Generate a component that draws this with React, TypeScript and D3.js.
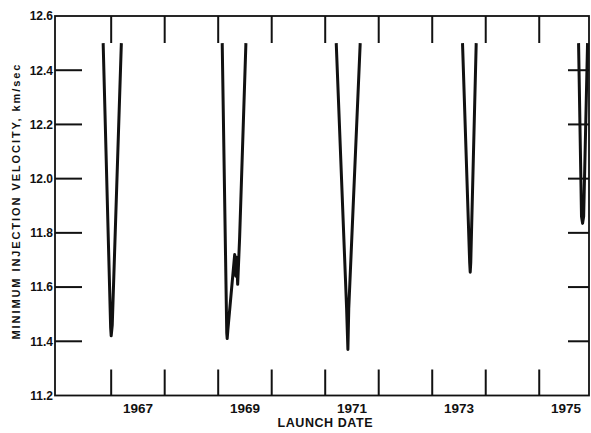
import { useEffect, useRef } from "react";
import * as d3 from "d3";

// launch windows: [year (decimal), minimum injection velocity km/sec]
const window1967: [number, number][] = [
  [1966.85, 12.5], [1966.99, 11.45], [1967.0, 11.42], [1967.02, 11.46], [1967.19, 12.5]
];
const window1969: [number, number][] = [
  [1969.075, 12.5], [1969.16, 11.43], [1969.168, 11.41], [1969.18, 11.44], [1969.308, 11.72],
  [1969.33, 11.64], [1969.346, 11.71], [1969.364, 11.61], [1969.40, 11.78], [1969.518, 12.5]
];
const window1971: [number, number][] = [
  [1971.206, 12.5], [1971.40, 11.52], [1971.424, 11.37], [1971.44, 11.52], [1971.654, 12.5]
];
const window1973: [number, number][] = [
  [1973.566, 12.5], [1973.70, 11.69], [1973.71, 11.655], [1973.72, 11.69], [1973.822, 12.5]
];
const window1975: [number, number][] = [
  [1975.735, 12.5], [1975.79, 11.86], [1975.81, 11.835], [1975.83, 11.86], [1975.903, 12.5]
];
const SERIES = [window1967, window1969, window1971, window1973, window1975];

const yearTicks = [1967, 1968, 1969, 1970, 1971, 1972, 1973, 1974, 1975];
const yearLabels = [1967, 1969, 1971, 1973, 1975];
const velTicks = [11.2, 11.4, 11.6, 11.8, 12.0, 12.2, 12.4, 12.6];

const FONT = "'Liberation Sans', Arial, sans-serif";

export default function App() {
  const ref = useRef<SVGSVGElement>(null);

  useEffect(() => {
    const w = 591, h = 433;
    const left = 55, right = 589, top = 16, bottom = 395.5;
    const svg = d3.select(ref.current)
      .attr("width", w)
      .attr("height", h)
      .attr("viewBox", `0 0 ${w} ${h}`);
    svg.selectAll("*").remove();

    const x = d3.scaleLinear().domain([1965.95, 1975.93]).range([left, right]);
    const y = d3.scaleLinear().domain([11.2, 12.6]).range([bottom, top]);

    const ink = "#111";

    // frame
    svg.append("rect")
      .attr("x", left).attr("y", top)
      .attr("width", right - left).attr("height", bottom - top)
      .attr("fill", "none").attr("stroke", ink).attr("stroke-width", 1.8);

    // inward ticks, all four sides
    const inner = velTicks.filter(v => v > 11.2 && v < 12.6);
    svg.append("g").selectAll("line").data(inner).join("line")
      .attr("x1", left).attr("x2", left + 27)
      .attr("y1", d => y(d)).attr("y2", d => y(d))
      .attr("stroke", ink).attr("stroke-width", 2);
    svg.append("g").selectAll("line").data(inner).join("line")
      .attr("x1", right).attr("x2", right - 21)
      .attr("y1", d => y(d)).attr("y2", d => y(d))
      .attr("stroke", ink).attr("stroke-width", 2);
    svg.append("g").selectAll("line").data(yearTicks).join("line")
      .attr("x1", d => x(d)).attr("x2", d => x(d))
      .attr("y1", bottom).attr("y2", bottom - 26)
      .attr("stroke", ink).attr("stroke-width", 2);
    svg.append("g").selectAll("line").data(yearTicks).join("line")
      .attr("x1", d => x(d)).attr("x2", d => x(d))
      .attr("y1", top).attr("y2", top + 27)
      .attr("stroke", ink).attr("stroke-width", 2);

    // y tick labels
    svg.append("g").selectAll("text").data(velTicks).join("text")
      .attr("x", left - 2).attr("y", d => y(d)).attr("dy", "0.36em")
      .attr("text-anchor", "end")
      .attr("font-family", FONT).attr("font-weight", "bold").attr("font-size", 12)
      .attr("fill", ink)
      .text(d => d.toFixed(1));

    // year labels, centred in the year
    svg.append("g").selectAll("text").data(yearLabels).join("text")
      .attr("x", d => x(d + 0.5)).attr("y", 413)
      .attr("text-anchor", "middle")
      .attr("font-family", FONT).attr("font-weight", "bold").attr("font-size", 13.5)
      .attr("fill", ink)
      .text(d => String(d));

    svg.append("text")
      .attr("x", 325).attr("y", 427)
      .attr("text-anchor", "middle")
      .attr("textLength", 95).attr("lengthAdjust", "spacing")
      .attr("font-family", FONT).attr("font-weight", "bold").attr("font-size", 12.5)
      .attr("fill", ink)
      .text("LAUNCH DATE");

    svg.append("text")
      .attr("transform", "translate(20,202) rotate(-90)")
      .attr("text-anchor", "middle")
      .attr("textLength", 275).attr("lengthAdjust", "spacing")
      .attr("font-family", FONT).attr("font-weight", "bold").attr("font-size", 11)
      .attr("fill", ink)
      .text("MINIMUM INJECTION VELOCITY, km/sec");

    // curves
    const line = d3.line<[number, number]>()
      .x(d => x(d[0]))
      .y(d => y(d[1]));

    svg.append("g").selectAll("path").data(SERIES).join("path")
      .attr("d", d => line(d))
      .attr("fill", "none")
      .attr("stroke", ink)
      .attr("stroke-width", 3)
      .attr("stroke-linejoin", "round")
      .attr("stroke-linecap", "butt");
  }, []);

  return (
    <div style={{ position: "absolute", left: 0, top: 0, background: "#fff" }}>
      <svg ref={ref} style={{ display: "block" }} />
    </div>
  );
}
